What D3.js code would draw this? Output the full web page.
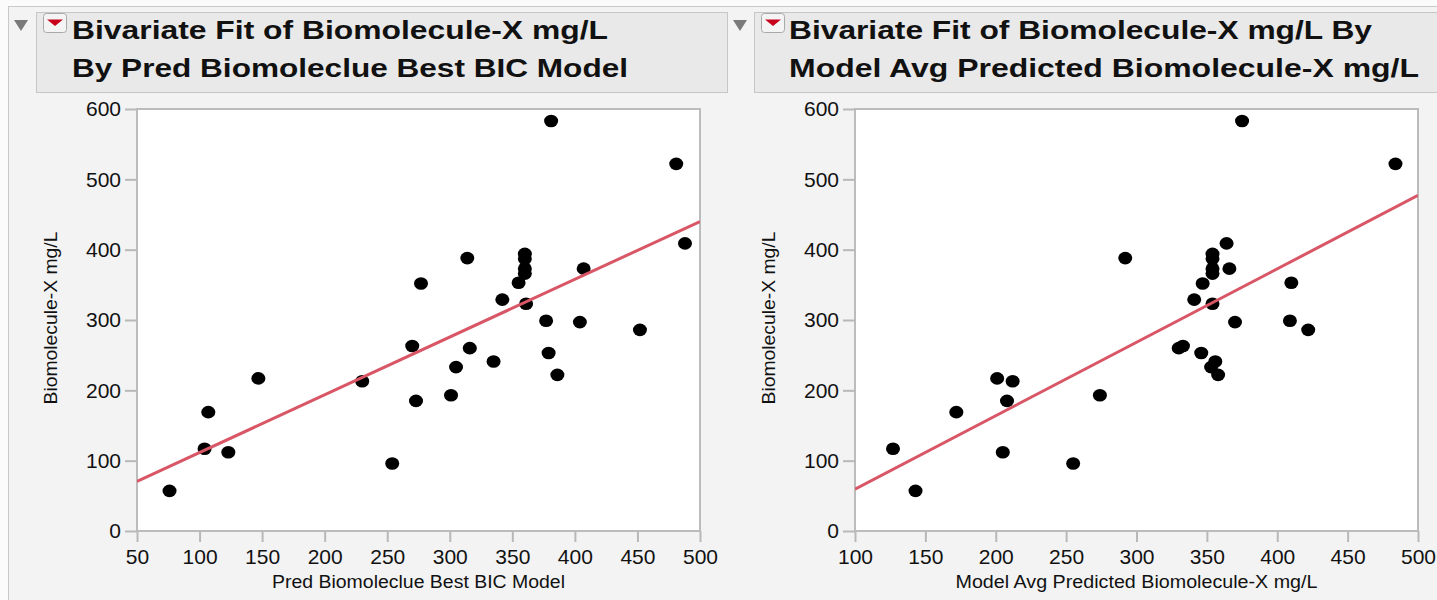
<!DOCTYPE html>
<html>
<head>
<meta charset="utf-8">
<script src="https://cdn.jsdelivr.net/npm/d3@7/dist/d3.min.js"></script>
<style>
  html, body { margin: 0; padding: 0; background: #fbfbfb; }
  svg { display: block; }
  text { font-family: "Liberation Sans", Arial, Helvetica, sans-serif; fill: #111; }
</style>
</head>
<body>
<svg id="chart" width="1437" height="600"></svg>
<script>
// ---- data ----
const biomoleculeX = [583, 522, 409, 388, 394, 387, 373, 366, 373, 352, 353, 329, 323, 299, 297, 286,
                      263, 260, 241, 233, 253, 222, 193, 185, 213, 217, 169, 117, 112, 96, 57];
const predBestBIC  = [381, 481, 488, 314, 360, 360, 360, 360, 407, 277, 355, 342, 361, 377, 404, 452,
                      270, 316, 335, 305, 379, 386, 301, 273, 230, 147, 107, 104, 123, 254, 76];
const modelAvgPred = [375, 484, 364, 292, 354, 354, 354, 354, 366, 347, 410, 341, 354, 409, 370, 422,
                      333, 330, 356, 353, 346, 358, 274, 208, 212, 201, 172, 127, 205, 255, 143];
const yTicks      = [0, 100, 200, 300, 400, 500, 600];
const xTicksLeft  = [50, 100, 150, 200, 250, 300, 350, 400, 450, 500];
const xTicksRight = [100, 150, 200, 250, 300, 350, 400, 450, 500];
const titlesLeft  = ["Bivariate Fit of Biomolecule-X mg/L", "By Pred Biomoleclue Best BIC Model"];
const titlesRight = ["Bivariate Fit of Biomolecule-X mg/L By", "Model Avg Predicted Biomolecule-X mg/L"];
const xTitleLeft  = "Pred Biomoleclue Best BIC Model";
const xTitleRight = "Model Avg Predicted Biomolecule-X mg/L";
const yTitle      = "Biomolecule-X mg/L";

const svg = d3.select("#chart");

// outer panel
svg.append("rect").attr("x", 8.5).attr("y", 6.5).attr("width", 1440).attr("height", 600)
  .attr("fill", "#f3f3f3").attr("stroke", "#c9c9c9").attr("stroke-width", 1);

function header(x0, x1, lines, widths, triX, btnX, textX) {
  svg.append("rect").attr("x", x0 + 0.5).attr("y", 12.5).attr("width", x1 - x0).attr("height", 80)
    .attr("fill", "#e9e9e9").attr("stroke", "#c6c6c6");
  // disclosure triangle
  svg.append("path")
    .attr("d", `M${triX},20 L${triX + 14},20 L${triX + 7},31 Z`)
    .attr("fill", "#7a7a7a");
  // red menu button
  svg.append("rect").attr("x", btnX + 0.5).attr("y", 13.5).attr("width", 23).attr("height", 19).attr("rx", 3)
    .attr("fill", "#f4f4f4").attr("stroke", "#a9a9a9");
  svg.append("path")
    .attr("d", `M${btnX + 4},19.5 L${btnX + 20},19.5 L${btnX + 12},26 Z`)
    .attr("fill", "#c8001a");
  lines.forEach((t, i) => {
    svg.append("text").attr("x", textX).attr("y", 39 + i * 38)
      .attr("font-size", 26).attr("font-weight", "bold")
      .attr("textLength", widths[i]).attr("lengthAdjust", "spacingAndGlyphs")
      .text(t);
  });
}
header(36, 727, titlesLeft, [536, 556], 14, 43, 72);
header(754, 1440, titlesRight, [583, 630], 733, 761, 789);

function panel(opts) {
  const { left, right, top, bottom, xDomain, xTicks, xs, ys, xTitle, xTitleW, yTitleX } = opts;
  const x = d3.scaleLinear().domain(xDomain).range([left, right]);
  const y = d3.scaleLinear().domain([0, 600]).range([bottom, top]);
  const g = svg.append("g");
  g.append("rect").attr("x", left).attr("y", top).attr("width", right - left).attr("height", bottom - top)
    .attr("fill", "#ffffff").attr("stroke", "#bcbcbc").attr("stroke-width", 2);

  const xAxis = g.append("g").attr("transform", `translate(0,${bottom})`)
    .call(d3.axisBottom(x).tickValues(xTicks).tickSize(11).tickPadding(7).tickFormat(d3.format("d")));
  const yAxis = g.append("g").attr("transform", `translate(${left},0)`)
    .call(d3.axisLeft(y).tickValues(yTicks).tickSize(12).tickPadding(4).tickFormat(d3.format("d")));
  [xAxis, yAxis].forEach(a => {
    a.select(".domain").remove();
    a.selectAll(".tick line").attr("stroke", "#b8b8b8").attr("stroke-width", 2);
    a.selectAll(".tick text").attr("font-size", 21).attr("fill", "#111")
      .attr("font-family", "'Liberation Sans', Arial, Helvetica, sans-serif");
  });

  // least-squares fit line
  const n = xs.length;
  const mx = d3.mean(xs), my = d3.mean(ys);
  let sxy = 0, sxx = 0;
  for (let i = 0; i < n; i++) { sxy += (xs[i] - mx) * (ys[i] - my); sxx += (xs[i] - mx) ** 2; }
  const b = sxy / sxx, a0 = my - b * mx;
  const clip = "clip" + left;
  svg.append("clipPath").attr("id", clip).append("rect")
    .attr("x", left).attr("y", top).attr("width", right - left).attr("height", bottom - top);
  const plot = g.append("g").attr("clip-path", `url(#${clip})`);

  plot.selectAll("ellipse").data(xs.map((v, i) => [v, ys[i]])).join("ellipse")
    .attr("cx", d => x(d[0])).attr("cy", d => y(d[1])).attr("rx", 7).attr("ry", 6.3)
    .attr("fill", "#000");

  plot.append("line")
    .attr("x1", x(xDomain[0])).attr("y1", y(a0 + b * xDomain[0]))
    .attr("x2", x(xDomain[1])).attr("y2", y(a0 + b * xDomain[1]))
    .attr("stroke", "#d95667").attr("stroke-width", 3);

  g.append("text").attr("x", (left + right) / 2).attr("y", 588).attr("text-anchor", "middle")
    .attr("font-size", 18).attr("textLength", xTitleW).attr("lengthAdjust", "spacingAndGlyphs")
    .text(xTitle);
  g.append("text").attr("transform", `translate(${yTitleX},${(top + bottom) / 2 - 2}) rotate(-90)`)
    .attr("text-anchor", "middle").attr("font-size", 18)
    .attr("textLength", 173).attr("lengthAdjust", "spacingAndGlyphs")
    .text(yTitle);
}

panel({ left: 137, right: 700, top: 109, bottom: 531, xDomain: [50, 500], xTicks: xTicksLeft,
        xs: predBestBIC, ys: biomoleculeX, xTitle: xTitleLeft, xTitleW: 293, yTitleX: 57 });
panel({ left: 855, right: 1418, top: 109, bottom: 531, xDomain: [100, 500], xTicks: xTicksRight,
        xs: modelAvgPred, ys: biomoleculeX, xTitle: xTitleRight, xTitleW: 362, yTitleX: 775 });
</script>
</body>
</html>
